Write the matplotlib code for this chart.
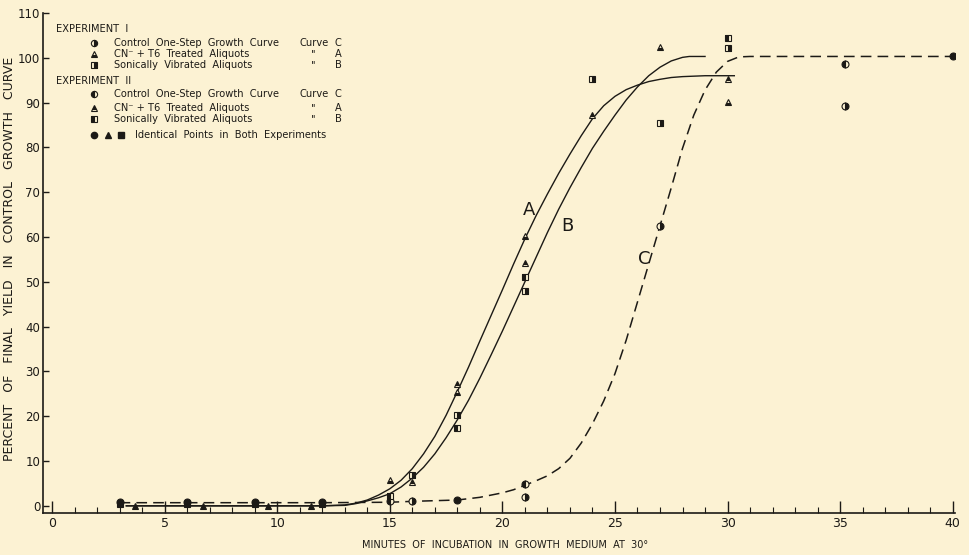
import matplotlib
matplotlib.use("Agg")
import matplotlib.pyplot as plt
from matplotlib.ticker import MultipleLocator

# ---- data ----
# hand-drawn curves (vertices)
curve_a_x = [3.3, 12.0, 13.0, 13.5, 14.0, 14.5, 15.0, 15.5, 16.0, 16.5, 17.0, 17.5, 18.0,
             18.5, 19.0, 19.5, 20.0, 20.5, 21.0, 21.5, 22.0, 22.5, 23.0, 23.5, 24.0,
             24.5, 25.0, 25.5, 26.0, 26.5, 27.0, 27.5, 28.0, 29.0, 30.3]
curve_a_y = [0.0, 0.0, 0.2, 0.6, 1.3, 2.4, 3.8, 5.7, 8.3, 11.6, 15.5, 20.2, 25.5,
             31.0, 36.8, 42.5, 48.2, 54.0, 59.6, 64.8, 69.6, 74.2, 78.5, 82.6, 86.4,
             89.3, 91.4, 92.9, 93.9, 94.7, 95.2, 95.6, 95.8, 96.0, 96.0]
curve_b_x = [3.3, 12.0, 13.0, 13.5, 14.0, 14.5, 15.0, 15.5, 16.0, 16.5, 17.0, 17.5, 18.0,
             18.5, 19.0, 19.5, 20.0, 20.5, 21.0, 21.5, 22.0, 22.5, 23.0, 23.5, 24.0,
             24.5, 25.0, 25.5, 26.0, 26.5, 27.0, 27.5, 28.0, 28.3, 29.0]
curve_b_y = [0.0, 0.0, 0.1, 0.5, 1.1, 1.8, 2.7, 4.2, 6.2, 8.6, 11.6, 15.2, 19.2,
             23.6, 28.5, 33.7, 39.0, 44.5, 50.0, 55.5, 61.0, 66.2, 71.0, 75.5, 79.8,
             83.6, 87.2, 90.6, 93.5, 96.0, 97.9, 99.3, 100.1, 100.3, 100.3]
curve_c_x = [3.0, 12.0, 15.0, 16.0, 18.0, 19.0, 20.0, 20.5, 21.0, 21.5, 22.0, 22.5, 23.0,
             23.5, 24.0, 24.5, 25.0, 25.5, 26.0, 26.5, 27.0, 27.5, 28.0, 28.5, 29.0,
             29.5, 30.0, 30.5, 31.0, 40.0]
curve_c_y = [0.7, 0.7, 0.8, 1.0, 1.3, 1.9, 2.9, 3.6, 4.6, 5.6, 6.7, 8.3, 10.6,
             14.0, 18.3, 23.4, 29.5, 37.0, 45.5, 54.0, 62.5, 71.0, 79.8, 87.2, 92.8,
             96.8, 99.2, 100.2, 100.3, 100.3]

# experiment I
ctrl1_x = [16, 21, 27, 30, 35.2]
ctrl1_y = [1.0, 1.9, 62.5, 111.4, 89.3]
cn1_x = [15, 18, 21, 27, 30]
cn1_y = [5.8, 25.3, 60.3, 102.3, 90.2]
son1_x = [16, 18, 21, 24, 27, 30]
son1_y = [6.9, 20.2, 48.0, 95.3, 85.4, 102.2]

# experiment II
ctrl2_x = [15, 21, 35.2]
ctrl2_y = [1.0, 4.9, 98.6]
cn2_x = [16, 18, 21, 24, 30]
cn2_y = [5.4, 27.2, 54.3, 87.3, 95.3]
son2_x = [15, 18, 21, 30]
son2_y = [2.1, 17.3, 51.0, 104.5]

# identical points in both experiments
same_ctrl_x = [3, 6, 9, 12, 18, 40]
same_ctrl_y = [0.9, 0.9, 0.9, 0.9, 1.3, 100.3]
same_son_x = [3, 6, 9, 12]
same_son_y = [0.3, 0.3, 0.3, 0.3]
same_cn_x = [3.7, 6.7, 9.6, 11.5]
same_cn_y = [-0.1, -0.1, -0.1, -0.1]

bg = "#fcf2d3"
ink = "#1c1a16"

fig = plt.figure(figsize=(9.7, 5.55), dpi=100, facecolor=bg)
ax = fig.add_axes([43 / 970, 1 - 513 / 555, (955 - 43) / 970, (513 - 13) / 555])
ax.set_facecolor(bg)

# curves
ax.plot(curve_a_x, curve_a_y, color=ink, lw=1.0)
ax.plot(curve_b_x, curve_b_y, color=ink, lw=1.0)
ax.plot(curve_c_x, curve_c_y, color=ink, lw=1.1, dashes=(7, 4))

ms = 5
kw = dict(color=ink, mec=ink, ls="none", ms=ms, markerfacecoloralt=bg, mew=0.8)
ax.plot(ctrl1_x, ctrl1_y, marker="o", fillstyle="right", **kw)
ax.plot(cn1_x, cn1_y, marker="^", fillstyle="bottom", **kw)
ax.plot(son1_x, son1_y, marker="s", fillstyle="right", **kw)
ax.plot(ctrl2_x, ctrl2_y, marker="o", fillstyle="left", **kw)
ax.plot(cn2_x, cn2_y, marker="^", fillstyle="top", **kw)
ax.plot(son2_x, son2_y, marker="s", fillstyle="left", **kw)
ax.plot(same_son_x, same_son_y, marker="s", fillstyle="full", **kw)
ax.plot(same_ctrl_x, same_ctrl_y, marker="o", fillstyle="full", **kw)
ax.plot(same_cn_x, same_cn_y, marker="^", fillstyle="full", **kw)

# curve labels
ax.text(21.2, 66, "A", fontsize=13, color=ink, ha="center", va="center")
ax.text(22.9, 62.5, "B", fontsize=13, color=ink, ha="center", va="center")
ax.text(26.3, 55, "C", fontsize=13, color=ink, ha="center", va="center")

# axes
ax.set_xlim(-0.4, 40.1)
ax.set_ylim(-1.6, 110)
for s in ["top", "right"]:
    ax.spines[s].set_visible(False)
for s in ["left", "bottom"]:
    ax.spines[s].set_color(ink)
    ax.spines[s].set_linewidth(1.2)
ax.xaxis.set_major_locator(MultipleLocator(5))
ax.xaxis.set_minor_locator(MultipleLocator(1))
ax.yaxis.set_major_locator(MultipleLocator(10))
ax.tick_params(axis="x", which="major", direction="in", length=9, width=1, colors=ink,
               labelsize=9, pad=3)
ax.tick_params(axis="x", which="minor", direction="in", length=4, width=0.8, colors=ink)
ax.tick_params(axis="y", which="major", direction="in", length=4, width=1, colors=ink,
               labelsize=8.5, pad=2)

# key and axis titles (figure pixel positions)
def fx(px):
    return px / 970

def fy(py):
    return 1 - py / 555

fig.text(fx(505), fy(545), "MINUTES  OF  INCUBATION  IN  GROWTH  MEDIUM  AT  30°",
         fontsize=7, color=ink, ha="center", va="center")
fig.text(fx(10), fy(259), "PERCENT   OF   FINAL   YIELD   IN   CONTROL   GROWTH   CURVE",
         fontsize=9, color=ink, ha="center", va="center", rotation=90)

tf = fig.transFigure
fs = 7.1
fig.text(fx(56), fy(29), "EXPERIMENT  I", fontsize=fs, color=ink, va="center")
fig.text(fx(56), fy(81), "EXPERIMENT  II", fontsize=fs, color=ink, va="center")

rows = [
    (43, "o", "right", "Control  One-Step  Growth  Curve", "Curve", "C"),
    (54, "^", "bottom", "CN\u207b + T6  Treated  Aliquots", "\"", "A"),
    (65, "s", "right", "Sonically  Vibrated  Aliquots", "\"", "B"),
    (94, "o", "left", "Control  One-Step  Growth  Curve", "Curve", "C"),
    (108, "^", "top", "CN\u207b + T6  Treated  Aliquots", "\"", "A"),
    (119, "s", "left", "Sonically  Vibrated  Aliquots", "\"", "B"),
]
for py, mk, fst, label, mid, letter in rows:
    fig.lines.append(plt.Line2D([fx(94)], [fy(py)], transform=tf, marker=mk, fillstyle=fst,
                                color=ink, mec=ink, ms=4.5, markerfacecoloralt=bg, mew=0.8))
    fig.text(fx(114), fy(py), label, fontsize=fs, color=ink, va="center")
    if mid == "Curve":
        fig.text(fx(300), fy(py), "Curve", fontsize=fs, color=ink, va="center")
    else:
        fig.text(fx(313), fy(py), mid, fontsize=fs, color=ink, va="center", ha="center")
    fig.text(fx(338), fy(py), letter, fontsize=fs, color=ink, va="center", ha="center")

for px, mk in [(94, "o"), (108, "^"), (121, "s")]:
    fig.lines.append(plt.Line2D([fx(px)], [fy(135)], transform=tf, marker=mk,
                                color=ink, mec=ink, ms=4.5))
fig.text(fx(135), fy(135), "Identical  Points  in  Both  Experiments", fontsize=fs,
         color=ink, va="center")

fig.savefig("out.png", dpi=100, facecolor=bg)
